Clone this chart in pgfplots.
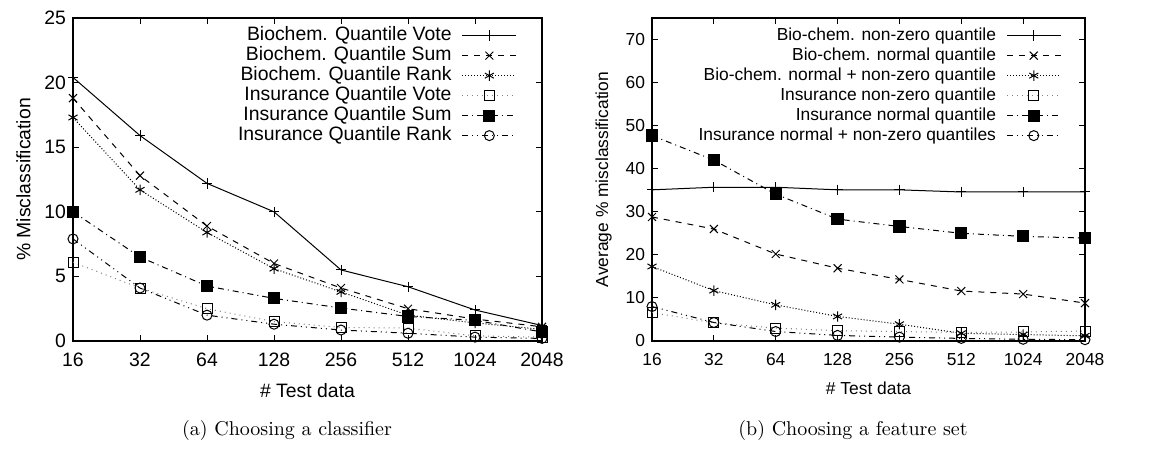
\documentclass[border=0pt]{standalone}
\usepackage{fontspec}
\usepackage{pgfplots}
\pgfplotsset{compat=1.18}
\newfontfamily\plotfont{Liberation Sans}

\pgfplotsset{
  gnu/.style={
    scale only axis,
    xmin=16, xmax=2048,
    xtick={16,32,64,128,256,512,1024,2048},
    xticklabels={16,32,64,128,256,512,1024,2048},
    tick label style={font=\plotfont\fontsize{#1}{11}\selectfont},
    xticklabel style={yshift=-2.5pt},
    label style={font=\plotfont\fontsize{#1}{11}\selectfont},
    xlabel style={yshift=-1.5pt},
    /pgf/number format/assume math mode=true,
    tick align=inside, major tick length=3pt,
    axis line style={line width=0.6pt},
    tick style={line width=0.5pt, black},
    every axis plot/.append style={line width=0.5pt, black, mark options={solid, black}},
    legend plot pos=right,
    legend image code/.code={
      \path[draw=none, fill=none] (0pt,-1pt) rectangle (32pt,1pt);
      \draw[mark repeat=2, mark phase=2] plot coordinates {(5pt,0pt) (18.5pt,0pt) (32pt,0pt)};},
    legend style={draw=none, fill=none, at={(0.96,0.99)}, anchor=north east,
      font=\plotfont\fontsize{#1}{11}\selectfont, cells={anchor=east},
      nodes={inner sep=0.4pt, text height=7pt, text depth=2.2pt}, row sep=0pt},
    xlabel={\# Test data},
  }
}

\begin{document}
\begin{tikzpicture}
\useasboundingbox (0,0) rectangle (575pt,230.5pt);

\begin{axis}[xmode=log, log basis x=2, gnu=9.7,
  at={(36.5pt,60pt)}, anchor=south west,
  width=234.5pt, height=161.5pt,
  ymin=0, ymax=25, ytick={0,5,10,15,20,25},
  ylabel={\% Misclassification},
]
\addplot[solid, mark=+, mark size=2.6pt] coordinates {(16,20.4) (32,15.9) (64,12.2) (128,10.0) (256,5.5) (512,4.2) (1024,2.4) (2048,1.2)};
\addlegendentry{Biochem. Quantile Vote}
\addplot[dashed, mark=x, mark size=2.8pt] coordinates {(16,18.8) (32,12.8) (64,8.9) (128,6.0) (256,4.1) (512,2.5) (1024,1.7) (2048,1.1)};
\addlegendentry{Biochem. Quantile Sum}
\addplot[densely dotted, mark=asterisk, mark size=2.6pt] coordinates {(16,17.3) (32,11.7) (64,8.4) (128,5.6) (256,3.8) (512,2.0) (1024,1.4) (2048,0.9)};
\addlegendentry{Biochem. Quantile Rank}
\addplot[dotted, gray, mark=square, mark size=2.5pt] coordinates {(16,6.1) (32,4.1) (64,2.5) (128,1.5) (256,1.05) (512,1.0) (1024,0.4) (2048,0.3)};
\addlegendentry{Insurance Quantile Vote}
\addplot[dash dot, mark=square*, mark size=2.8pt] coordinates {(16,10.0) (32,6.5) (64,4.25) (128,3.3) (256,2.55) (512,1.9) (1024,1.6) (2048,0.7)};
\addlegendentry{Insurance Quantile Sum}
\addplot[dash dot dot, mark=o, mark size=2.5pt] coordinates {(16,7.9) (32,4.1) (64,2.0) (128,1.3) (256,0.85) (512,0.6) (1024,0.3) (2048,0.2)};
\addlegendentry{Insurance Quantile Rank}
\end{axis}

\begin{axis}[xmode=log, log basis x=2, gnu=8.7,
  at={(326pt,60pt)}, anchor=south west,
  width=216.5pt, height=161.5pt,
  ymin=0, ymax=75, ytick={0,10,20,30,40,50,60,70},
  ylabel={Average \% misclassification},
]
\addplot[solid, mark=+, mark size=2.6pt] coordinates {(16,35.1) (32,35.7) (64,35.7) (128,35.1) (256,35.1) (512,34.6) (1024,34.6) (2048,34.6)};
\addlegendentry{Bio-chem. non-zero quantile}
\addplot[dashed, mark=x, mark size=2.8pt] coordinates {(16,28.8) (32,26.0) (64,20.2) (128,16.9) (256,14.3) (512,11.6) (1024,10.9) (2048,8.8)};
\addlegendentry{Bio-chem. normal quantile}
\addplot[densely dotted, mark=asterisk, mark size=2.6pt] coordinates {(16,17.3) (32,11.7) (64,8.4) (128,5.7) (256,3.9) (512,1.8) (1024,1.5) (2048,1.2)};
\addlegendentry{Bio-chem. normal + non-zero quantile}
\addplot[dotted, gray, mark=square, mark size=2.5pt] coordinates {(16,6.6) (32,4.2) (64,3.0) (128,2.4) (256,2.2) (512,2.0) (1024,2.1) (2048,2.3)};
\addlegendentry{Insurance non-zero quantile}
\addplot[dash dot, mark=square*, mark size=2.8pt] coordinates {(16,47.7) (32,42.0) (64,34.1) (128,28.3) (256,26.6) (512,25.0) (1024,24.3) (2048,23.9)};
\addlegendentry{Insurance normal quantile}
\addplot[dash dot dot, mark=o, mark size=2.5pt] coordinates {(16,8.0) (32,4.3) (64,2.2) (128,1.3) (256,0.9) (512,0.6) (1024,0.4) (2048,0.3)};
\addlegendentry{Insurance normal + non-zero quantiles}
\end{axis}

\node[font=\fontsize{10}{12}\selectfont] at (143.5pt,15.5pt) {(a) Choosing a classifier};
\node[font=\fontsize{10}{12}\selectfont] at (426.5pt,15.5pt) {(b) Choosing a feature set};
\end{tikzpicture}
\end{document}
